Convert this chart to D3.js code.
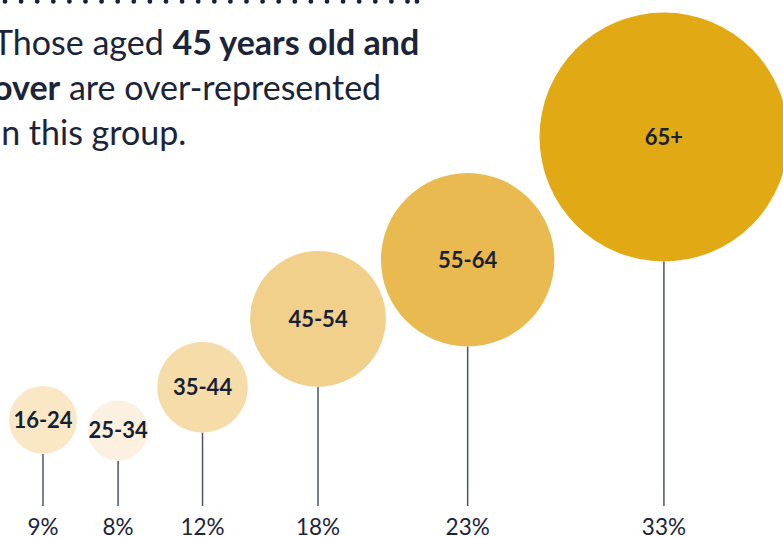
<!DOCTYPE html>
<html>
<head>
<meta charset="utf-8">
<script src="https://d3js.org/d3.v7.min.js"></script>
<style>
  body { margin: 0; background: #fff; }
  svg { display: block; font-family: Lato, "Open Sans", sans-serif; }
  .intro text { font-size: 34px; fill: #1b2438; }
  .intro .strong { font-weight: 700; }
  .stem { stroke: #4b5468; stroke-width: 1.5; }
  .age { font-size: 22px; font-weight: 700; fill: #161f34; text-anchor: middle; }
  .share { font-size: 22.5px; fill: #1b2438; text-anchor: middle; }
  .dots circle { fill: #17203a; }
</style>
</head>
<body>
<script>

  // data
  var ages = ["16-24", "25-34", "35-44", "45-54", "55-64", "65+"];
  var shares = [9, 8, 12, 18, 23, 33];   // % of group

  // styling per age band
  var fills = ["#f9e7c6", "#fcf1e0", "#f6dca8", "#f0d08a", "#e9ba50", "#e1aa14"];

  var width = 783, height = 537,
      baseline = 506,     // where the stems stop
      gap = 22.3, pack = 0.824;

  var svg = d3.select("body").append("svg")
      .attr("width", width)
      .attr("height", height);

  // dotted rule at the top
  var dotX = d3.range(5, 410, 16.1).concat([417]);
  svg.append("g").attr("class", "dots")
    .selectAll("circle")
      .data(dotX)
    .enter().append("circle")
      .attr("cx", d => d)
      .attr("cy", 1.5)
      .attr("r", 2.3);

  // intro text (runs off the left edge, as in the source layout)
  var intro = svg.append("g").attr("class", "intro");
  var lines = [
    [["Those aged ", false], ["45 years old and", true]],
    [["over", true], [" are over-represented", false]],
    [["in this group.", false]]
  ];
  lines.forEach(function(parts, i) {
    var t = intro.append("text").attr("x", -7).attr("y", 55 + i * 45);
    parts.forEach(function(p) {
      t.append("tspan").attr("class", p[1] ? "strong" : null).text(p[0]);
    });
  });

  // radius is linear in the share, height of the bubble grows a bit faster
  var r = d3.scaleLinear().domain([0, 33]).range([0, 124.4]);
  var lift = d3.scalePow().exponent(1.12).domain([0, 33]).range([0, 369]);
  var color = d3.scaleOrdinal().domain(ages).range(fills);

  var data = ages.map(function(a, i) { return {age: a, share: shares[i]}; });

  // pack the bubbles left to right
  var x = 43;
  data.forEach(function(d, i) {
    if (i > 0) x += gap + pack * (r(data[i - 1].share) + r(d.share));
    d.x = x;
    d.y = baseline - lift(d.share);
  });

  var g = svg.selectAll(".bubble")
      .data(data)
    .enter().append("g")
      .attr("class", "bubble");

  g.append("line")
      .attr("class", "stem")
      .attr("x1", d => d.x).attr("x2", d => d.x)
      .attr("y1", d => d.y + r(d.share))
      .attr("y2", baseline);

  g.append("circle")
      .attr("cx", d => d.x)
      .attr("cy", d => d.y)
      .attr("r", d => r(d.share))
      .style("fill", d => color(d.age));

  g.append("text")
      .attr("class", "age")
      .attr("x", d => d.x)
      .attr("y", d => d.y)
      .attr("dy", "0.36em")
      .text(d => d.age);

  g.append("text")
      .attr("class", "share")
      .attr("x", d => d.x)
      .attr("y", 535)
      .text(d => d.share + "%");

</script>
</body>
</html>
